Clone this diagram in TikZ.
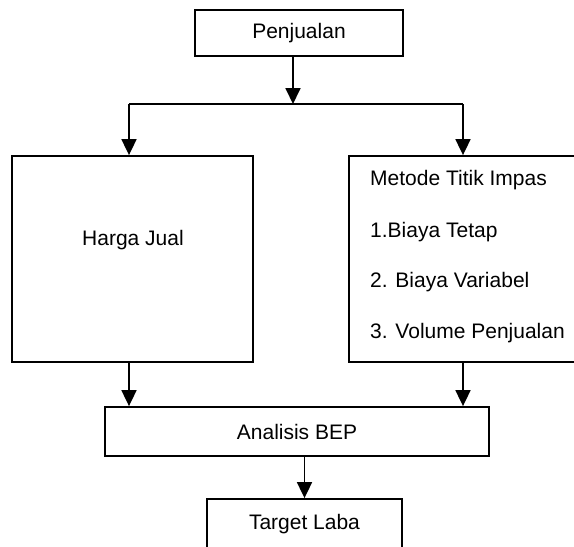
\documentclass[tikz,border=0pt]{standalone}
\usepackage{fontspec}
\setmainfont{Liberation Sans}
\usetikzlibrary{arrows.meta}

\tikzset{
    box/.style={draw, line width=1.8pt, rectangle, inner sep=0pt},
    txt/.style={font=\fontsize{21}{25}\selectfont, inner sep=0pt},
    flow/.style={line width=1.8pt, -{Triangle[width=15pt,length=16pt]}}
}

\begin{document}
\begin{tikzpicture}[x=1pt, y=-1pt]
            \useasboundingbox (0, 0) rectangle (574, 547);
            \clip (0, 0) rectangle (574, 547);
            % top box
            \node[box, txt, minimum width=208, minimum height=46] (penjualan) at (299, 33) {Penjualan};
            \coordinate (split) at (293, 104);
            \coordinate (splitl) at (129, 104);
            \coordinate (splitr) at (463, 104);

            % middle boxes
            \node[box, minimum width=241, minimum height=206] (harga) at (132.5, 259) {};
            \node[txt] (hargatext) at (133, 240) {Harga Jual};
            \node[box, minimum width=241, minimum height=206] (metode) at (469.5, 259) {};
            \node[txt, anchor=west] (metode1) at (370, 180) {Metode Titik Impas};
            \node[txt, anchor=west] (metode2) at (370, 232) {1.Biaya Tetap};
            \node[txt, anchor=west] (metode3) at (370, 282) {2. Biaya Variabel};
            \node[txt, anchor=west] (metode4) at (370, 333) {3. Volume Penjualan};

            % bottom boxes
            \node[box, txt, minimum width=384, minimum height=49] (analisis) at (297, 431.5) {Analisis BEP};
            \node[box, txt, minimum width=195, minimum height=50] (target) at (304.5, 524) {Target Laba};

            % connectors
            \draw[flow] (penjualan.south -| split) -- (split);
            \draw[line width=1.8pt] (splitl) -- (splitr);
            \draw[flow] (splitl) -- (harga.north -| splitl);
            \draw[flow] (splitr) -- (metode.north -| splitr);
            \draw[flow] (harga.south -| splitl) -- (analisis.north -| splitl);
            \draw[flow] (metode.south -| splitr) -- (analisis.north -| splitr);
            \draw[flow] (analisis.south -| target.north) -- (target.north);
        \end{tikzpicture}
\end{document}
